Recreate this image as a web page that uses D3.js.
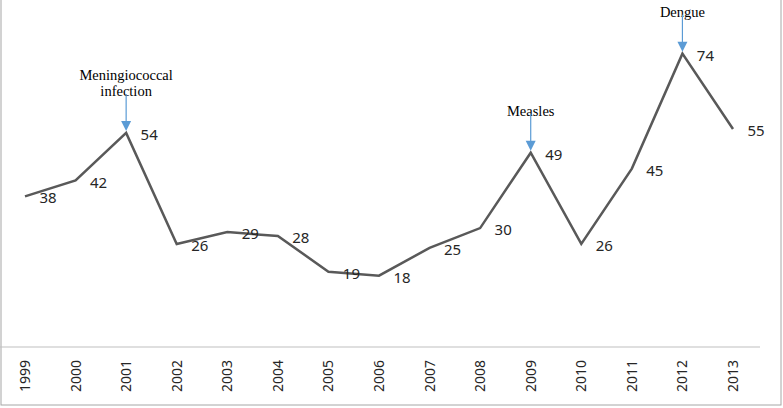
<!DOCTYPE html>
<html>
<head>
<meta charset="utf-8">
<script src="https://cdn.jsdelivr.net/npm/d3@7"></script>
<style>
  body { margin: 0; background: #fff; }
  svg { display: block; }
</style>
</head>
<body>
<div id="chart"></div>
<script>
var years = ["1999", "2000", "2001", "2002", "2003", "2004", "2005", "2006",
             "2007", "2008", "2009", "2010", "2011", "2012", "2013"];
var cases = [38, 42, 54, 26, 29, 28, 19, 18, 25, 30, 49, 26, 45, 74, 55];
var noteYears = ["2001", "2009", "2012"];
var noteText = [["Meningiococcal", "infection"], ["Measles"], ["Dengue"]];

var W = 783, H = 408;
var svg = d3.select("#chart").append("svg")
    .attr("width", W)
    .attr("height", H);

// outer frame
svg.append("rect")
    .attr("x", 1).attr("y", -2)
    .attr("width", 780).attr("height", 407)
    .attr("fill", "none")
    .attr("stroke", "#a6a6a6")
    .attr("stroke-width", 1);

var x = d3.scalePoint()
    .domain(years)
    .range([25, 733]);

var y = d3.scaleLinear()
    .domain([0, 80])
    .range([347, 347 - 80 * 3.964]);

// x axis baseline
svg.append("line")
    .attr("x1", 0).attr("x2", 760)
    .attr("y1", y(0)).attr("y2", y(0))
    .attr("stroke", "#bfbfbf")
    .attr("stroke-width", 1.2);

svg.append("g")
    .selectAll("text")
    .data(years)
    .enter()
    .append("text")
    .attr("transform", function (d) {
        return "translate(" + (x(d) + 5) + ",392) rotate(-90)";
    })
    .attr("text-anchor", "start")
    .style("font-family", "'Noto Sans', 'DejaVu Sans', sans-serif")
    .style("font-size", "14px")
    .style("fill", "#262626")
    .text(function (d) { return d; });

var line = d3.line()
    .x(function (d, i) { return x(years[i]); })
    .y(function (d) { return y(d); });

svg.append("path")
    .datum(cases)
    .attr("d", line)
    .attr("fill", "none")
    .attr("stroke", "#595959")
    .attr("stroke-width", 2.5)
    .attr("stroke-linejoin", "miter");

svg.append("g")
    .selectAll("text")
    .data(cases)
    .enter()
    .append("text")
    .attr("x", function (d, i) { return x(years[i]) + 23; })
    .attr("y", function (d) { return y(d) + 7; })
    .attr("text-anchor", "middle")
    .style("font-family", "'Noto Sans', 'DejaVu Sans', sans-serif")
    .style("font-size", "15px")
    .style("fill", "#262626")
    .text(function (d) { return d; });

// annotations with arrows
var arrowColor = "#5b9bd5";
noteYears.forEach(function (yr, k) {
    var i = years.indexOf(yr);
    var px = x(yr), py = y(cases[i]);
    var lines = noteText[k];
    var base = py - 37;
    var g = svg.append("g");
    lines.forEach(function (t, j) {
        g.append("text")
            .attr("x", px)
            .attr("y", base - (lines.length - 1 - j) * 16)
            .attr("text-anchor", "middle")
            .style("font-family", "'Liberation Serif', 'Times New Roman', serif")
            .style("font-size", "14.5px")
            .style("fill", "#000")
            .text(t);
    });
    g.append("line")
        .attr("x1", px).attr("x2", px)
        .attr("y1", base - 2).attr("y2", py - 11)
        .attr("stroke", arrowColor)
        .attr("stroke-width", 1.2);
    g.append("path")
        .attr("d", "M" + (px - 5) + "," + (py - 12) + "L" + (px + 5) + "," + (py - 12) +
            "L" + px + "," + (py - 2) + "Z")
        .attr("fill", arrowColor);
});
</script>
</body>
</html>
